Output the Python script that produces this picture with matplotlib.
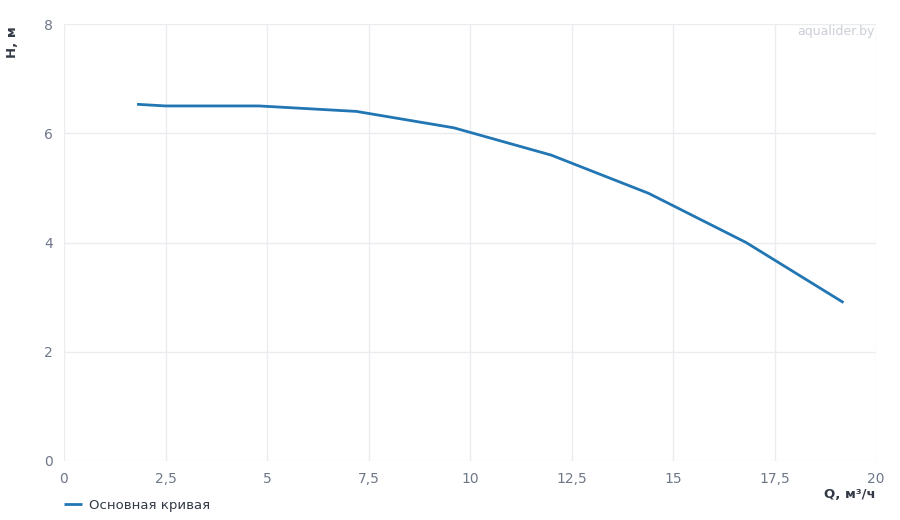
import matplotlib
matplotlib.use('Agg')
import matplotlib.pyplot as plt
from matplotlib.ticker import FuncFormatter

plt.rcParams['font.family'] = ['DejaVu Sans']

# pump curve
q_values = [1.8, 2.5, 4.8, 7.2, 9.6, 12.0, 14.4, 16.8, 19.2]
h_values = [6.53, 6.5, 6.5, 6.4, 6.1, 5.6, 4.9, 4.0, 2.9]

x_ticks = [0, 2.5, 5, 7.5, 10, 12.5, 15, 17.5, 20]
y_ticks = [0, 2, 4, 6, 8]

tick_col = '#6e7788'
grid_col = '#ebecf0'
label_col = '#333a45'
line_col = '#2176b3'

fig = plt.figure(figsize=(9, 5.2), dpi=100)
ax = fig.add_axes([64/900, 59/520, 812/900, 437/520])

ax.plot(q_values, h_values, color=line_col, lw=2.0, solid_capstyle='butt',
        label='Основная кривая')

ax.set_xlim(0, 20)
ax.set_ylim(0, 8)
ax.set_xticks(x_ticks)
ax.set_yticks(y_ticks)
ax.xaxis.set_major_formatter(FuncFormatter(lambda v, p: ('%g' % v).replace('.', ',')))
ax.grid(True, color=grid_col, lw=1)
ax.set_axisbelow(True)
for s in ax.spines.values():
    s.set_visible(False)
ax.tick_params(length=0, colors=tick_col, labelsize=10)
ax.tick_params(axis='x', pad=8)
ax.tick_params(axis='y', pad=8)

fig.text(12/900, 1 - 42/520, 'H, м', rotation=90, ha='center', va='center',
         fontsize=9.5, fontweight='bold', color=label_col)
fig.text(876/900, 1 - 495/520, 'Q, м³/ч', ha='right', va='center',
         fontsize=9.5, fontweight='bold', color=label_col)
fig.text(875/900, 1 - 32/520, 'aqualider.by', ha='right', va='center',
         fontsize=9, color='#cbcfd6')

leg = ax.legend(loc='upper left', bbox_to_anchor=(-0.015, -0.06), frameon=False,
                handlelength=1.4, handletextpad=0.5, fontsize=9.5)
for t in leg.get_texts():
    t.set_color(label_col)

fig.savefig('out.png', dpi=100)
